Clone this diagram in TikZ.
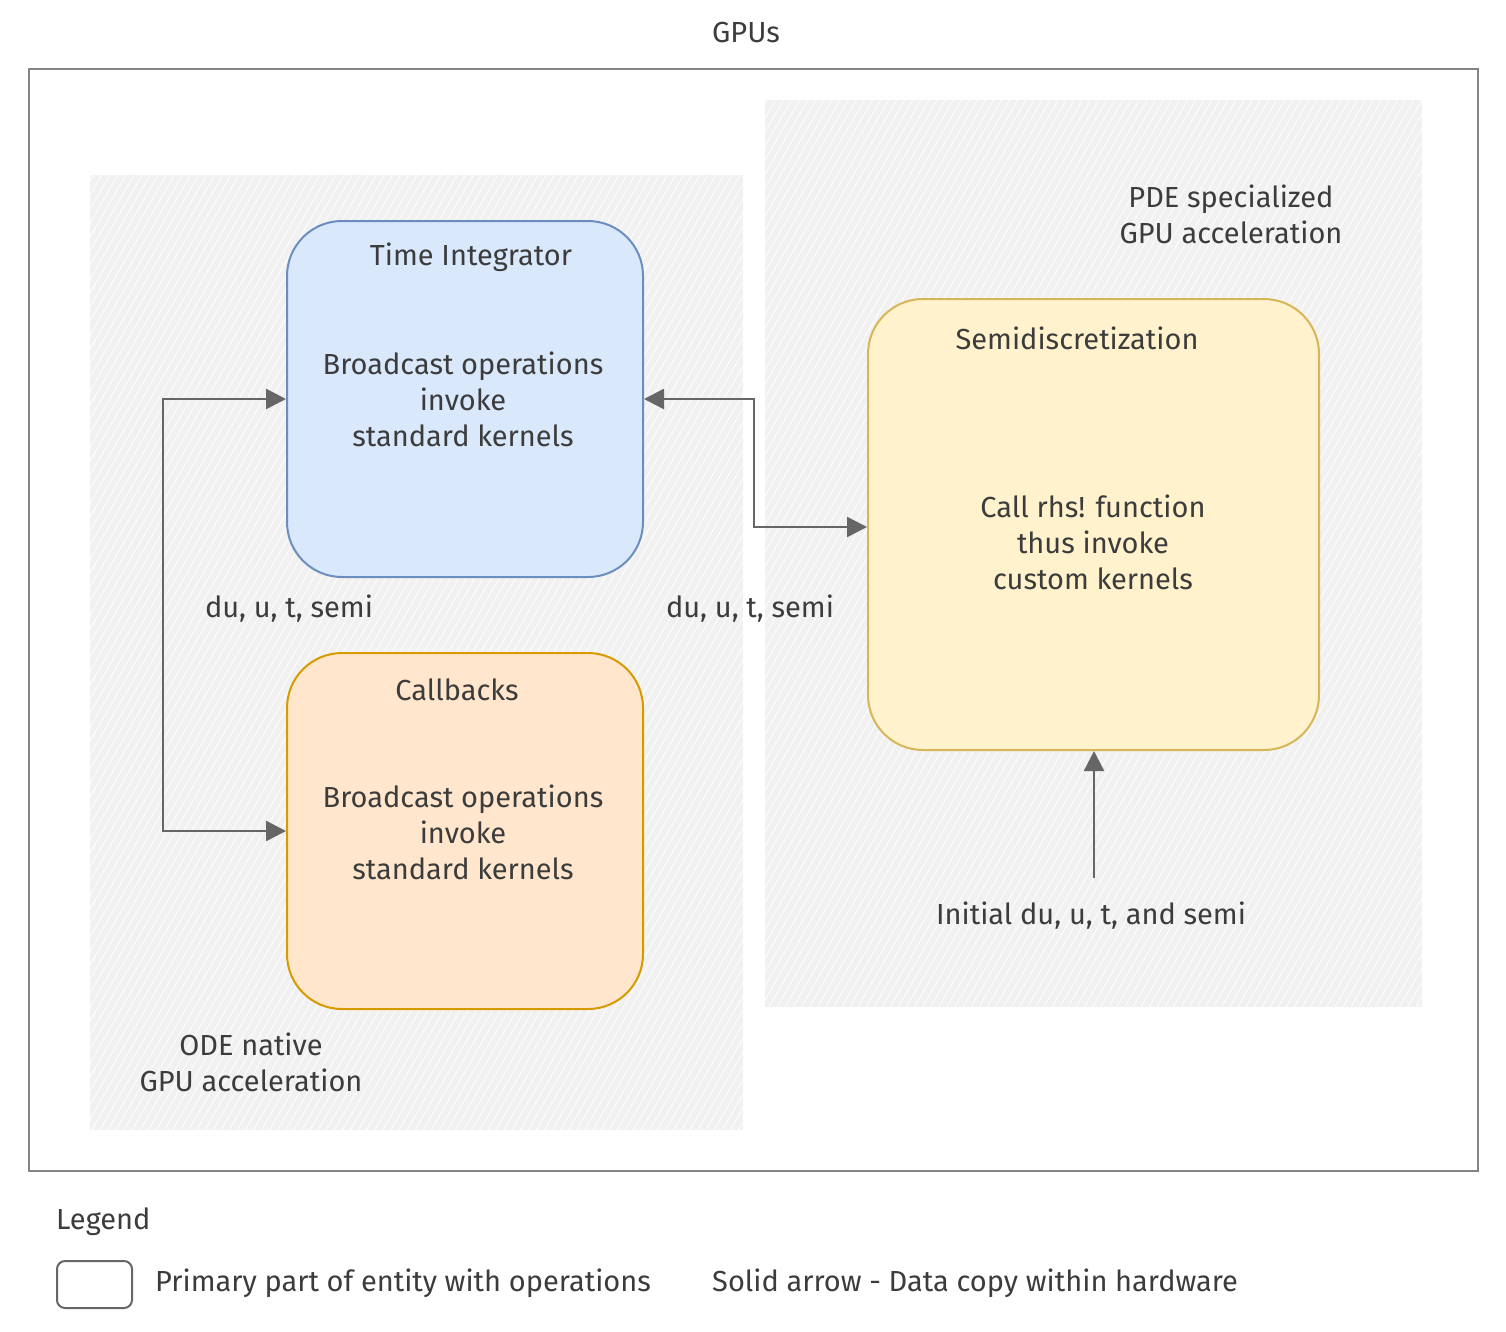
\documentclass[tikz,border=0pt]{standalone}
\usepackage{fontspec}
\setmainfont{Fira Sans}
\usetikzlibrary{arrows.meta,patterns.meta,calc}
\definecolor{txt}{HTML}{3C3C3C}
\definecolor{edge}{HTML}{666666}
\definecolor{bluef}{HTML}{DAE8FC}\definecolor{blues}{HTML}{6C8EBF}
\definecolor{orf}{HTML}{FFE6CC}\definecolor{ors}{HTML}{D79B00}
\definecolor{yef}{HTML}{FFF2CC}\definecolor{yes}{HTML}{D6B656}
\definecolor{hatchbg}{HTML}{F1F1F1}
\tikzset{
  lbl/.style={text=txt,font=\fontsize{29}{36}\selectfont,align=center,inner sep=0pt},
  entity/.style={draw,line width=2pt,rounded corners=55pt,minimum width=356pt,minimum height=356pt,inner sep=0pt},
  area/.style={fill=hatchbg,draw=none},
  hatch/.style={pattern={Lines[angle=60,distance=7pt,line width=0.8pt]},pattern color=white},
  conn/.style={draw=edge,line width=2.5pt,{Triangle[length=20pt,width=20pt]}-{Triangle[length=20pt,width=20pt]}},
  conn1/.style={draw=edge,line width=2.5pt,-{Triangle[length=20pt,width=20pt]}}
}
\begin{document}
\begin{tikzpicture}[x=1pt,y=-1pt]
\useasboundingbox[fill=white] (0,0) rectangle (1506,1331);
\node[lbl] (gpus) at (746,33) {GPUs};
\node[draw=edge!80,line width=2pt,minimum width=1449pt,minimum height=1102pt,inner sep=0pt,anchor=north west] (outer) at (28,68) {};
% shaded areas
\node[area,minimum width=653pt,minimum height=955pt,anchor=north west,inner sep=0pt] (leftarea) at (90,175) {};
\fill[hatch] (90,175) rectangle (743,1130);
\node[area,minimum width=657pt,minimum height=907pt,anchor=north west,inner sep=0pt] (rightarea) at (765,100) {};
\fill[hatch] (765,100) rectangle (1422,1007);
% entities
\node[entity,draw=blues,fill=bluef] (ti) at (465,399) {};
\node[entity,draw=ors,fill=orf] (cb) at (465,831) {};
\node[entity,draw=yes,fill=yef,minimum width=451pt,minimum height=451pt] (semi) at (1093.5,524.5) {};
\node[lbl] (tit) at (471,257) {Time Integrator};
\node[lbl] (tib) at (463,399) {Broadcast operations\\invoke\\standard kernels};
\node[lbl] (cbt) at (457,690) {Callbacks};
\node[lbl] (cbb) at (463,832) {Broadcast operations\\invoke\\standard kernels};
\node[lbl] (semit) at (1077,338) {Semidiscretization};
\node[lbl] (semib) at (1093,542) {Call rhs! function\\thus invoke\\custom kernels};
\node[lbl] (ode) at (251,1062) {ODE native\\GPU acceleration};
\node[lbl] (pde) at (1231,214) {PDE specialized\\GPU acceleration};
\node[lbl] (l1) at (289,609) {du, u, t, semi};
\node[lbl] (l2) at (750,609) {du, u, t, semi};
\node[lbl] (init) at (1091,916) {Initial du, u, t, and semi};
% connectors
\coordinate (c1) at (163,399);
\coordinate (c2) at (754,399);
\coordinate (c3) at (754,527);
\coordinate (c4) at (1094,878);
\draw[conn] (ti.west) -- (c1) |- (cb.west);
\draw[conn] (ti.east) -- (c2) -- (c3) -- (c3 -| semi.west);
\draw[conn1] (c4) -- (semi.south -| c4);
% legend
\node[lbl,anchor=west] (legend) at (56,1222) {Legend};
\node[draw=edge,line width=2pt,rounded corners=8pt,minimum width=75pt,minimum height=47pt,inner sep=0pt] (legbox) at (94.5,1284.5) {};
\node[lbl,anchor=west] (leg1) at (155,1283) {Primary part of entity with operations};
\node[lbl,anchor=west] (leg2) at (712,1283) {Solid arrow - Data copy within hardware};
\end{tikzpicture}
\end{document}
